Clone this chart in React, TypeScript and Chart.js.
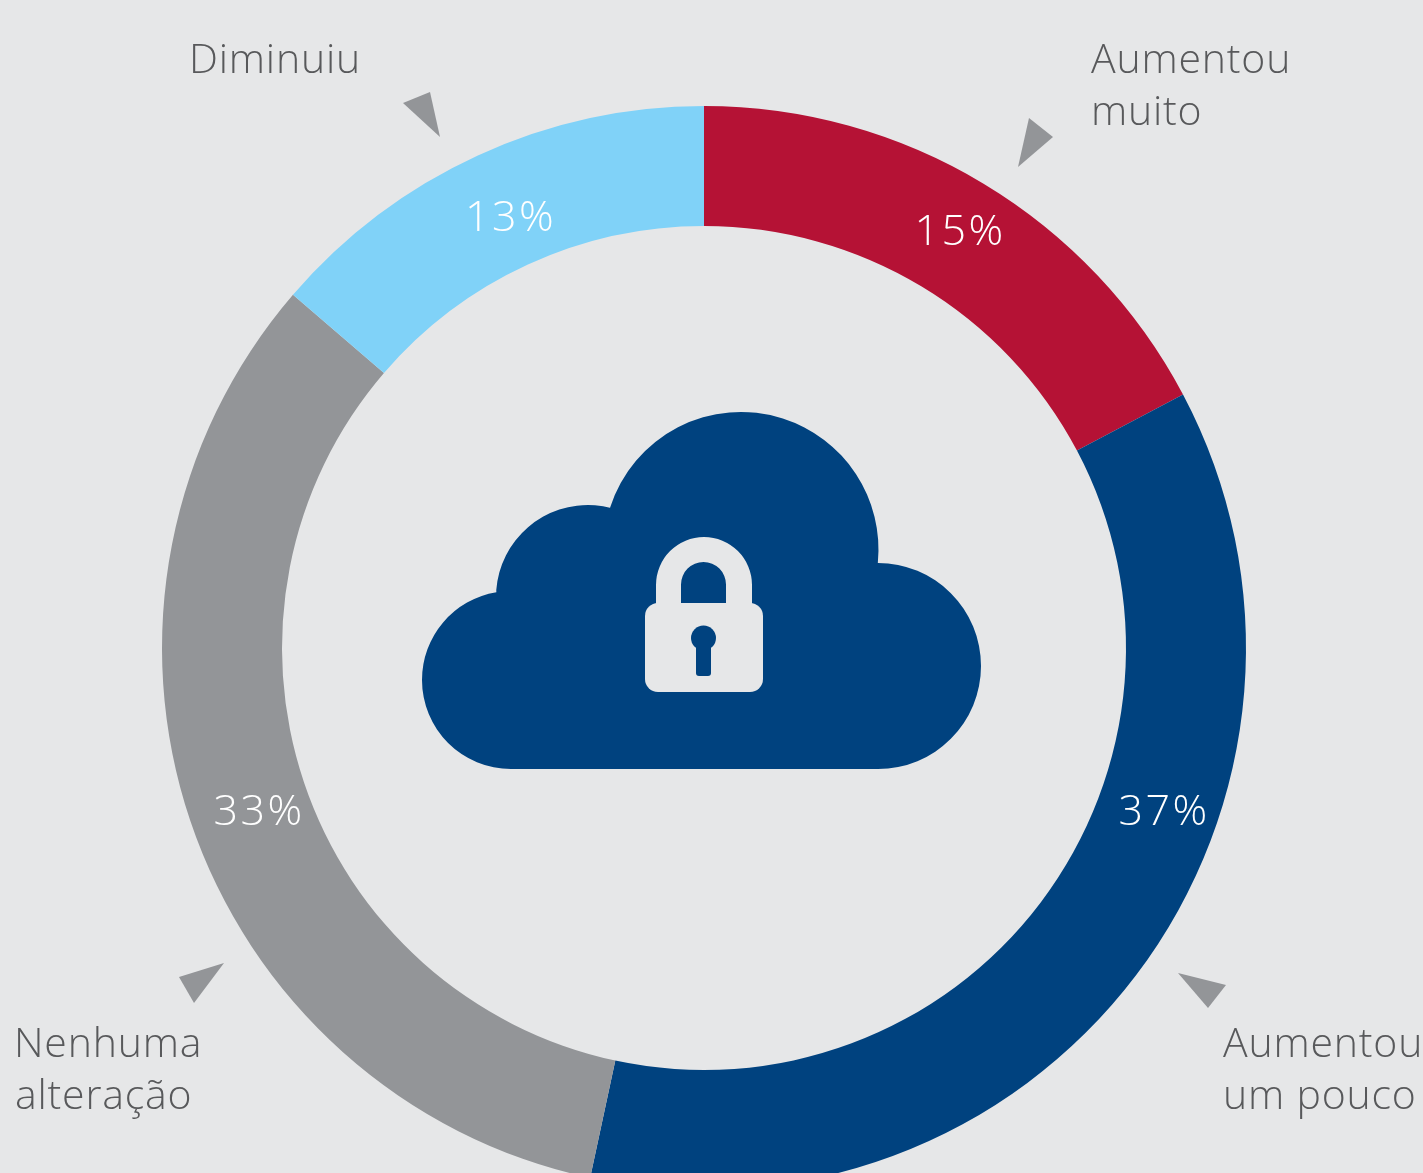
import React, { useEffect, useRef } from "react";
import { Chart, registerables } from "chart.js";

Chart.register(...registerables);

const categories = ["Aumentou muito", "Aumentou um pouco", "Nenhuma alteração", "Diminuiu"];
// Arc shares (they differ from the printed labels).
const arcShares = [17.25, 36.12, 32.93, 13.7];
const printedLabels = ["15%", "37%", "33%", "13%"];
const sliceColors = ["#b51235", "#00427f", "#939598", "#80d2f8"];

const BG = "#e6e7e8";
const TEXT = "#58595b";
const FONT = '"Open Sans"';

const nameLines: [string, number, number][] = [
  ["Aumentou", 1091, 72.5],
  ["muito", 1091, 125],
  ["Aumentou", 1223, 1057],
  ["um pouco", 1223, 1109],
  ["Nenhuma", 14, 1057],
  ["alteração", 15, 1109],
  ["Diminuiu", 189, 72.5],
];
const pctAnchors: [number, number][] = [
  [914.5, 245],
  [1118.5, 824.5],
  [213.5, 824.5],
  [465, 230.5],
];
const pointers: number[][] = [
  [1029, 118, 1053, 137, 1018, 167],
  [1178, 973, 1226, 985, 1208, 1008],
  [179, 977, 224, 963, 194, 1003],
  [403, 103, 430, 92, 440, 137],
];

function lobe(ctx: CanvasRenderingContext2D, cx: number, cy: number, r: number, x0: number, y0: number, x1: number, y1: number) {
  ctx.arc(cx, cy, r, Math.atan2(y0 - cy, x0 - cx), Math.atan2(y1 - cy, x1 - cx), false);
}

function drawIcon(ctx: CanvasRenderingContext2D) {
  ctx.save();
  ctx.fillStyle = sliceColors[1];
  ctx.beginPath();
  lobe(ctx, 511, 680, 89, 511, 769, 496, 590);
  lobe(ctx, 588, 597, 92, 496, 590, 611, 508);
  lobe(ctx, 741, 549.5, 137.5, 611, 508, 877, 563);
  lobe(ctx, 878, 666, 103, 878, 563, 878, 769);
  ctx.closePath();
  ctx.fill();

  ctx.fillStyle = BG;
  // shackle
  ctx.beginPath();
  ctx.moveTo(656, 610);
  ctx.lineTo(656, 585);
  ctx.arc(704, 585, 48, Math.PI, 0, false);
  ctx.lineTo(752, 610);
  ctx.lineTo(726, 610);
  ctx.lineTo(726, 602);
  ctx.lineTo(726, 584.5);
  ctx.arc(703.5, 584.5, 22.5, 0, Math.PI, true);
  ctx.lineTo(681, 610);
  ctx.closePath();
  ctx.fill();
  // body
  ctx.beginPath();
  ctx.roundRect(645, 603, 118, 89, 13);
  ctx.fill();
  // keyhole
  ctx.fillStyle = sliceColors[1];
  ctx.beginPath();
  ctx.arc(703.5, 638, 12.5, 0, Math.PI * 2);
  ctx.fill();
  ctx.beginPath();
  ctx.roundRect(696, 640, 15, 36, 3);
  ctx.fill();
  ctx.restore();
}

const overlay = {
  id: "overlay",
  afterDraw(chart: Chart) {
    const ctx = chart.ctx as any;
    drawIcon(ctx);
    ctx.save();
    ctx.fillStyle = "#939598";
    pointers.forEach((p) => {
      ctx.beginPath();
      ctx.moveTo(p[0], p[1]);
      ctx.lineTo(p[2], p[3]);
      ctx.lineTo(p[4], p[5]);
      ctx.closePath();
      ctx.fill();
    });
    ctx.textAlign = "left";
    ctx.textBaseline = "alphabetic";
    ctx.font = `300 41px ${FONT}`;
    ctx.letterSpacing = "0.8px";
    ctx.fillStyle = TEXT;
    nameLines.forEach(([t, x, y]) => ctx.fillText(t, x, y));
    ctx.font = `300 43px ${FONT}`;
    ctx.letterSpacing = "2.4px";
    ctx.fillStyle = "#ffffff";
    printedLabels.forEach((t, i) => ctx.fillText(t, pctAnchors[i][0], pctAnchors[i][1]));
    ctx.restore();
  },
};

export default function App() {
  const ref = useRef<HTMLCanvasElement>(null);
  useEffect(() => {
    const chart = new Chart(ref.current!, {
      type: "doughnut",
      data: {
        labels: categories,
        datasets: [{ data: arcShares, backgroundColor: sliceColors, borderWidth: 0 }],
      },
      options: {
        animation: false,
        responsive: false,
        radius: 542,
        cutout: "77.86%",
        layout: { padding: { right: 15 } },
        plugins: { legend: { display: false }, tooltip: { enabled: false } },
      },
      plugins: [overlay],
    } as any);
    return () => chart.destroy();
  }, []);
  return (
    <div style={{ position: "absolute", left: 0, top: 0, width: 1423, height: 1173, overflow: "hidden", background: BG }}>
      <canvas ref={ref} width={1423} height={1296} style={{ display: "block" }} />
    </div>
  );
}
